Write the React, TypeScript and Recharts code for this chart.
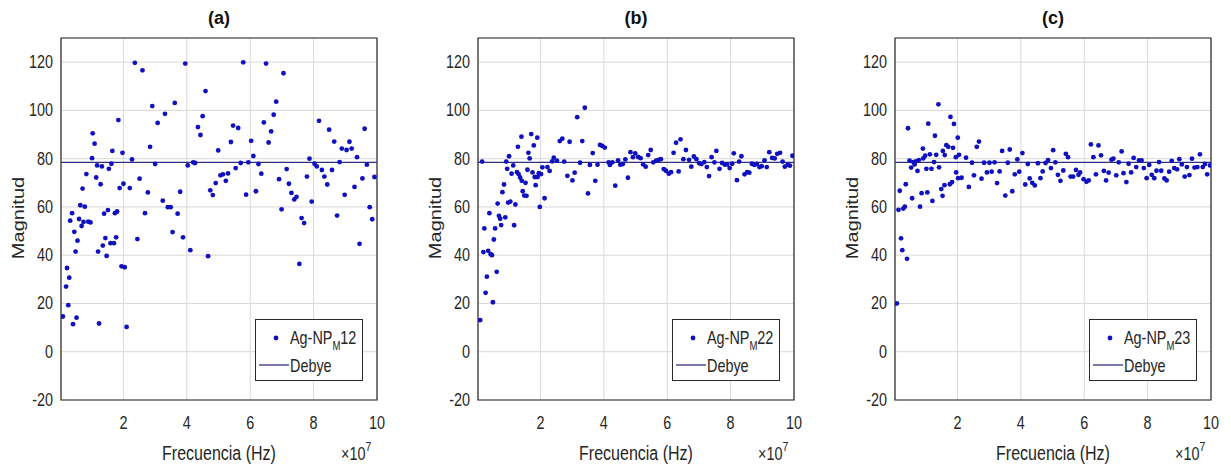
import React from 'react';
import { ScatterChart, Scatter, XAxis, YAxis, CartesianGrid, ReferenceLine, ReferenceArea } from 'recharts';

const X_TICKS = [2, 4, 6, 8, 10];
const Y_TICKS = [-20, 0, 20, 40, 60, 80, 100, 120];
const X_DOMAIN: [number, number] = [0.03, 10];
const Y_DOMAIN: [number, number] = [-20, 130];
const DEBYE = 78.5;
const TITLES = ['(a)', '(b)', '(c)'];
const SAMPLE_IDS = ['12', '22', '23'];

// frequency (x 10^7 Hz), magnitude
const samplesA: [number, number][] = [
  [0.09,14.6],[0.19,27],[0.22,34.7],[0.26,19.3],[0.29,30.7],[0.32,54.3],[0.38,57.4],[0.41,11.4],[0.45,49.7],[0.49,41.5],
  [0.52,14.1],[0.55,46],[0.6,55],[0.64,60.7],[0.68,52.1],[0.71,67.6],[0.74,53.8],[0.78,60.1],[0.83,73.6],[0.89,53.9],
  [0.96,53.6],[1.01,80.2],[1.03,90.5],[1.09,86.2],[1.14,72.2],[1.17,77.2],[1.2,41.5],[1.23,11.7],[1.28,69.4],[1.32,76.8],
  [1.35,44],[1.39,57.2],[1.43,47.1],[1.47,39.7],[1.51,58.7],[1.54,75.8],[1.59,45],[1.62,77.9],[1.65,83.2],[1.7,45],
  [1.73,57.4],[1.77,47.4],[1.8,58.1],[1.84,96],[1.88,67.8],[1.94,35.4],[1.97,82.4],[2.0,69.6],[2.04,35],[2.1,10.3],
  [2.2,67.8],[2.27,79.7],[2.36,119.7],[2.44,46.7],[2.51,71.7],[2.6,116.6],[2.68,57.4],[2.77,66],[2.84,84.9],[2.91,101.8],
  [3.0,77.8],[3.08,94.8],[3.24,62.6],[3.31,98.6],[3.4,59.9],[3.49,59.9],[3.55,49.6],[3.62,103.1],[3.71,57.2],[3.79,66.3],
  [3.88,47.4],[3.95,119.4],[4.03,77.2],[4.11,42.1],[4.2,78.5],[4.26,78.2],[4.35,93.1],[4.43,89.8],[4.5,97.6],[4.59,108],
  [4.67,39.6],[4.74,66.9],[4.82,64.9],[4.91,69.9],[4.99,83.4],[5.06,73.1],[5.14,73.5],[5.23,70.8],[5.3,73.9],[5.39,86.9],
  [5.46,93.7],[5.54,76.1],[5.62,92.7],[5.7,78.2],[5.78,119.9],[5.87,65.1],[5.94,78.5],[6.03,87.4],[6.1,81.1],[6.18,66.5],
  [6.26,77.8],[6.35,73.8],[6.43,95],[6.5,119.4],[6.58,86.7],[6.66,91.3],[6.74,98.2],[6.82,103.6],[6.91,71.5],[6.99,59],
  [7.05,115.4],[7.15,75.7],[7.22,69.6],[7.3,65.8],[7.39,63.1],[7.46,64.2],[7.55,36.4],[7.62,55.4],[7.7,53.3],[7.79,72.6],
  [7.87,80],[7.94,62.2],[8.03,77.9],[8.1,76.8],[8.17,95.7],[8.26,75.3],[8.34,72.6],[8.43,69.3],[8.49,92],[8.58,75.3],
  [8.65,87.1],[8.74,56.4],[8.82,78.6],[8.89,84.2],[8.98,65],[9.04,83.6],[9.13,87],[9.2,84.2],[9.29,68.3],[9.37,80.6],
  [9.45,44.7],[9.54,71.8],[9.61,92.4],[9.68,77.5],[9.77,59.9],[9.85,54.9],[9.92,72.4],
];

const samplesB: [number, number][] = [
  [0.1,13.1],[0.16,78.8],[0.2,41.3],[0.23,51.1],[0.27,24.4],[0.31,31.1],[0.35,41.8],[0.39,57.4],[0.43,40.4],[0.47,40],
  [0.5,20.5],[0.53,46.5],[0.57,51.1],[0.62,33.1],[0.65,61.4],[0.69,56.3],[0.73,55.1],[0.76,52.5],[0.8,66.1],[0.85,69.3],
  [0.89,55.7],[0.92,78.8],[0.95,75.8],[0.98,61.8],[1.01,81],[1.05,62.2],[1.09,73.8],[1.14,77.2],[1.17,52.4],[1.21,61],
  [1.26,74.4],[1.29,84.9],[1.31,73.6],[1.36,72.2],[1.4,89.1],[1.41,70.8],[1.44,66.5],[1.49,64.7],[1.53,70],[1.56,64.6],
  [1.59,75.4],[1.62,82.4],[1.66,80.1],[1.71,90.2],[1.75,74.3],[1.79,85.5],[1.82,72.4],[1.85,69],[1.9,88.7],[1.91,72.4],
  [1.95,74],[1.98,60],[2.02,73.6],[2.06,76.4],[2.13,63.6],[2.22,76.5],[2.29,74.9],[2.37,78.9],[2.42,80.4],[2.52,79.2],
  [2.61,87.3],[2.69,88.3],[2.75,78.8],[2.85,72.9],[2.92,87],[3.01,71],[3.08,74.2],[3.16,97.2],[3.25,78.3],[3.32,87.3],
  [3.4,101.1],[3.5,65.6],[3.56,77.4],[3.65,82.3],[3.73,70.8],[3.8,77.5],[3.88,85.7],[3.95,85.3],[4.03,84.6],[4.15,78.5],
  [4.19,77.4],[4.27,78.5],[4.36,68.8],[4.45,79.3],[4.52,77.5],[4.6,77.8],[4.68,79.7],[4.76,72.1],[4.84,82.7],[4.92,80.6],
  [4.99,82.2],[5.08,80.7],[5.16,80.2],[5.24,77.6],[5.32,76.7],[5.4,81.5],[5.48,83.6],[5.56,78.5],[5.65,79.2],[5.73,79.5],
  [5.8,79.8],[5.89,75.7],[5.96,75],[6.05,73.8],[6.12,74.4],[6.2,82.4],[6.28,86.6],[6.36,74.7],[6.42,88],[6.51,79.8],
  [6.59,83.6],[6.69,79.5],[6.76,76.7],[6.84,80.9],[6.92,79.8],[7.01,78.1],[7.08,77.8],[7.17,78.6],[7.25,76.5],[7.32,72.8],
  [7.4,80.6],[7.49,78.5],[7.55,83.2],[7.65,75.8],[7.73,78.2],[7.82,77.5],[7.89,77.6],[7.97,76.1],[8.05,77.9],[8.1,82.2],
  [8.2,71.1],[8.27,78.8],[8.34,81],[8.44,73.5],[8.52,74.4],[8.59,74.2],[8.67,77.9],[8.75,77.4],[8.83,77.8],[8.91,76.5],
  [8.98,76.9],[9.07,79.3],[9.14,76.5],[9.22,82.7],[9.31,80.3],[9.39,80.1],[9.47,82],[9.56,82.4],[9.64,78.8],[9.71,76.7],
  [9.8,77.5],[9.87,77.1],[9.95,81.2],
];

const samplesC: [number, number][] = [
  [0.09,20],[0.14,58.8],[0.18,66.7],[0.22,47],[0.26,42.1],[0.29,59.3],[0.34,60.1],[0.37,69.4],[0.41,38.5],[0.44,92.6],
  [0.49,79.2],[0.54,76.3],[0.57,63.6],[0.61,78.6],[0.65,77.6],[0.69,78.9],[0.74,74.9],[0.78,79.4],[0.82,60.1],[0.87,65.7],
  [0.91,84.2],[0.92,80.1],[0.98,81.2],[1.02,75.8],[1.05,66],[1.08,94.5],[1.13,81.8],[1.18,75.8],[1.21,62.5],[1.26,78.6],
  [1.29,89.5],[1.33,81.6],[1.4,102.5],[1.42,76.4],[1.49,67.4],[1.53,64.6],[1.54,83.2],[1.59,69],[1.6,81.5],[1.65,85.6],
  [1.71,84.9],[1.76,69.4],[1.78,97.3],[1.83,70.3],[1.86,84.5],[1.89,94.4],[1.95,80.6],[1.96,74.3],[2.01,88.7],[2.02,71.9],
  [2.05,81.6],[2.13,72.1],[2.27,80.4],[2.36,68.3],[2.46,78.3],[2.52,73.1],[2.61,84.9],[2.68,87.1],[2.76,71.7],[2.84,78.3],
  [2.93,74.3],[3.01,78.3],[3.08,74.6],[3.17,78.5],[3.25,69.9],[3.33,74.7],[3.41,83.2],[3.51,64.7],[3.59,78.3],[3.65,83.8],
  [3.73,66.5],[3.81,73.5],[3.89,79.7],[3.95,74.6],[4.05,82.3],[4.14,69.3],[4.22,77.8],[4.28,71.8],[4.36,70],[4.44,68.9],
  [4.54,78.1],[4.62,71.9],[4.69,74.7],[4.78,78.2],[4.86,79.4],[4.95,76.1],[5.02,83.5],[5.09,78.5],[5.17,73.3],[5.25,70.8],
  [5.34,75.1],[5.42,82],[5.49,80.6],[5.57,72.6],[5.65,72.6],[5.74,75.3],[5.82,73.3],[5.87,74.3],[5.98,71.5],[6.07,70.4],
  [6.14,71],[6.21,85.9],[6.29,80.6],[6.37,73.5],[6.45,85.5],[6.53,81.4],[6.62,74.9],[6.69,71],[6.77,74.2],[6.86,79.6],
  [6.92,80],[7.01,73.1],[7.09,78.5],[7.18,83],[7.24,74],[7.33,70.3],[7.4,77.9],[7.48,74.3],[7.56,80.3],[7.64,76.5],
  [7.73,79.3],[7.81,79.3],[7.88,76.1],[7.97,71.9],[8.05,77.4],[8.13,73.3],[8.21,71.9],[8.28,75],[8.36,78.6],[8.43,75],
  [8.53,71.8],[8.6,71],[8.68,74.6],[8.76,79.1],[8.84,76.1],[8.93,75.6],[9.0,79.8],[9.08,77.6],[9.17,72.6],[9.24,76.5],
  [9.32,73.2],[9.4,80],[9.48,76.3],[9.57,76.5],[9.65,81.8],[9.74,76.5],[9.81,77.8],[9.88,73.5],[9.97,77.2],
];

const ALL_SAMPLES = [samplesA, samplesB, samplesC];
const PANEL_LEFTS = [0, 417, 834];
const PANEL_WIDTHS = [410, 410, 397];

const FONT = "'Liberation Sans', Arial, Helvetica, sans-serif";
const TEXT_COLOR = '#262626';
const SX = 0.8;
const DOT_COLOR = '#1010c0';
const LINE_COLOR = '#30307e';

const PLOT_LEFT = 61;
const PLOT_W = 316;
const PLOT_TOP = 38;
const PLOT_BOTTOM = 400;

const XTick = (props: any) => {
  const { x, y, payload } = props;
  return (
    <text
      transform={`translate(${x},${y + 29}) scale(${SX},1)`}
      textAnchor="middle"
      fontSize={18}
      fontFamily={FONT}
      fill={TEXT_COLOR}
    >
      {payload.value}
    </text>
  );
};

const YTick = (props: any) => {
  const { x, y, payload } = props;
  return (
    <text
      transform={`translate(${x - 8},${y + 6}) scale(${SX},1)`}
      textAnchor="end"
      fontSize={18}
      fontFamily={FONT}
      fill={TEXT_COLOR}
    >
      {payload.value}
    </text>
  );
};

const Dot = (props: any) => {
  const { cx, cy } = props;
  if (cx == null || cy == null) return null;
  return <circle cx={cx} cy={cy} r={2.4} fill={DOT_COLOR} />;
};

function Panel({ idx }: { idx: number }) {
  const width = PANEL_WIDTHS[idx];
  const data = ALL_SAMPLES[idx].map(([x, y]) => ({ x, y }));
  const right = width - PLOT_LEFT - PLOT_W;
  const cx = PLOT_LEFT + PLOT_W / 2;
  return (
    <div style={{ position: 'absolute', left: PANEL_LEFTS[idx], top: 0, width, height: 467 }}>
      <ScatterChart
        width={width}
        height={467}
        margin={{ top: PLOT_TOP, left: PLOT_LEFT - 50, right, bottom: 467 - PLOT_BOTTOM - 30 }}
      >
        <CartesianGrid stroke="#d8d8d8" strokeWidth={1} />
        <XAxis
          type="number"
          dataKey="x"
          domain={X_DOMAIN}
          ticks={X_TICKS}
          allowDataOverflow
          interval={0}
          height={30}
          tickLine={false}
          axisLine={false}
          tickSize={0}
          tickMargin={0}
          tick={<XTick />}
        />
        <YAxis
          type="number"
          dataKey="y"
          domain={Y_DOMAIN}
          ticks={Y_TICKS}
          allowDataOverflow
          interval={0}
          width={50}
          tickLine={false}
          axisLine={false}
          tickSize={0}
          tickMargin={0}
          tick={<YTick />}
        />
        <ReferenceLine y={DEBYE} stroke={LINE_COLOR} strokeWidth={1.3} />
        <Scatter data={data} shape={<Dot />} isAnimationActive={false} />
        <ReferenceArea
          x1={X_DOMAIN[0]}
          x2={X_DOMAIN[1]}
          y1={Y_DOMAIN[0]}
          y2={Y_DOMAIN[1]}
          fill="none"
          fillOpacity={0}
          stroke="#2a2a2a"
          strokeWidth={1.2}
          ifOverflow="visible"
        />
      </ScatterChart>

      {/* title */}
      <div
        style={{
          position: 'absolute', left: cx - 40, width: 80, top: 8, textAlign: 'center',
          fontFamily: FONT, fontWeight: 'bold', fontSize: 18, color: '#111', lineHeight: '20px',
        }}
      >
        {TITLES[idx]}
      </div>

      {/* y label */}
      <div
        style={{
          position: 'absolute', left: 18 - 60, top: 218 - 12, width: 120, height: 24, textAlign: 'center',
          fontFamily: FONT, fontSize: 20, color: TEXT_COLOR, lineHeight: '24px',
          transform: 'rotate(-90deg) scale(1,0.8)',
        }}
      >
        Magnitud
      </div>

      {/* x label */}
      <div
        style={{
          position: 'absolute', left: cx - 100, width: 200, top: 441, textAlign: 'center',
          fontFamily: FONT, fontSize: 20, color: TEXT_COLOR, lineHeight: '24px',
          transform: `scale(${SX},1)`,
        }}
      >
        Frecuencia (Hz)
      </div>

      {/* exponent */}
      <div
        style={{
          position: 'absolute', left: PLOT_LEFT + PLOT_W - 36, top: 443, width: 50,
          fontFamily: FONT, fontSize: 18, color: TEXT_COLOR, lineHeight: '22px', whiteSpace: 'nowrap',
          transform: `scale(${SX},1)`, transformOrigin: 'left center',
        }}
      >
        ×10<span style={{ position: 'relative', top: -9, fontSize: 13 }}>7</span>
      </div>

      {/* legend */}
      <svg
        style={{ position: 'absolute', left: PLOT_LEFT + 194, top: 319 }}
        width={109}
        height={63}
      >
        <rect x={0.5} y={0.5} width={107} height={61} fill="#fff" stroke="#2a2a2a" strokeWidth={1} />
        <circle cx={21} cy={19} r={2.4} fill={DOT_COLOR} />
        <text transform={`translate(35,25) scale(${SX},1)`} fontSize={18} fontFamily={FONT} fill={TEXT_COLOR}>
          Ag-NP
          <tspan fontSize={12} dy={6}>M</tspan>
          <tspan fontSize={18} dy={-6}>{SAMPLE_IDS[idx]}</tspan>
        </text>
        <line x1={4} x2={34} y1={46} y2={46} stroke={LINE_COLOR} strokeWidth={1.3} />
        <text transform={`translate(35,53) scale(${SX},1)`} fontSize={18} fontFamily={FONT} fill={TEXT_COLOR}>
          Debye
        </text>
      </svg>
    </div>
  );
}

export default function App() {
  return (
    <div
      style={{
        position: 'absolute', left: 0, top: 0, width: 1231, height: 467,
        background: '#fff', overflow: 'hidden',
      }}
    >
      <Panel idx={0} />
      <Panel idx={1} />
      <Panel idx={2} />
    </div>
  );
}
